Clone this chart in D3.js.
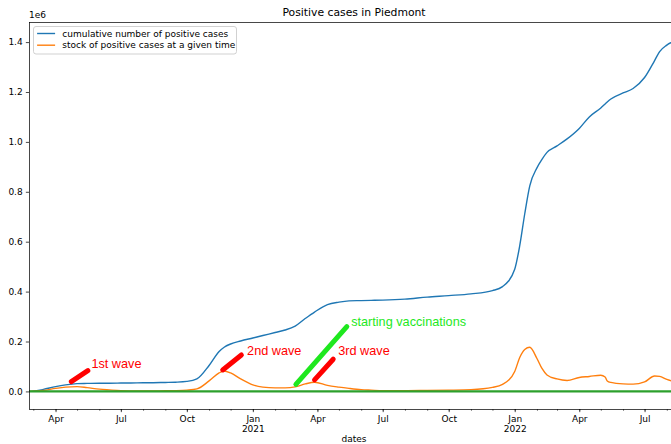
<!DOCTYPE html>
<html>
<head>
<meta charset="utf-8">
<script src="https://cdn.jsdelivr.net/npm/d3@7"></script>
<style>
  html, body { margin: 0; padding: 0; background: #fff; }
  svg { display: block; font-family: "DejaVu Sans", sans-serif; }
</style>
</head>
<body>
<svg id="chart" width="671" height="444"></svg>
<script>
// Piedmont COVID-19 positive cases, sampled dates
const dates = [
  "2020-02-24","2020-03-01","2020-03-15","2020-04-01","2020-04-15","2020-05-01","2020-05-15",
  "2020-06-01","2020-06-15","2020-07-01","2020-07-15","2020-08-01","2020-08-15","2020-09-01",
  "2020-09-15","2020-10-01","2020-10-15","2020-11-01","2020-11-15","2020-11-22","2020-12-01",
  "2020-12-15","2021-01-01","2021-01-15","2021-02-01","2021-02-15","2021-03-01","2021-03-15",
  "2021-03-28","2021-04-15","2021-05-01","2021-05-15","2021-06-01","2021-06-15","2021-07-01",
  "2021-08-01","2021-09-01","2021-10-01","2021-11-01","2021-12-01","2021-12-15","2022-01-01",
  "2022-01-08","2022-01-15","2022-01-22","2022-02-01","2022-02-08","2022-02-15","2022-03-01",
  "2022-03-15","2022-04-01","2022-04-15","2022-05-01","2022-05-07","2022-05-10","2022-05-15",
  "2022-06-01","2022-06-15","2022-07-01","2022-07-15","2022-07-22","2022-08-01","2022-08-18"
];

// cumulative number of positive cases
const cumulativeCases = [
  0, 1000, 8000, 19000, 26000, 31000, 32000,
  33000, 33000, 33500, 34000, 34500, 35000, 36000,
  37000, 40000, 50000, 104000, 160000, 177000, 190000,
  202000, 214000, 224000, 236000, 246000, 262000, 292000,
  318000, 348000, 358000, 363000, 364000, 365000, 366000,
  370000, 378000, 384000, 391000, 404000, 420000, 490000,
  584000, 712000, 824000, 896000, 930000, 958000, 984000,
  1012000, 1054000, 1100000, 1136000, 1152000, 1160000, 1172000,
  1196000, 1214000, 1258000, 1326000, 1362000, 1388000, 1410000
];

// stock of positive cases at a given time
const activeCases = [
  0, 500, 4000, 12000, 17000, 19000, 15000,
  9000, 6000, 3000, 2000, 1500, 2000, 2500,
  3000, 5000, 10000, 42000, 74000, 82000, 74000,
  50000, 26000, 17000, 14000, 14000, 18000, 30000,
  37000, 24000, 17000, 12000, 7000, 5000, 3000,
  3000, 4000, 5000, 7000, 16000, 28000, 80000,
  136000, 168000, 177000, 132000, 92000, 66000, 50000,
  44000, 56000, 60000, 65000, 58000, 42000, 36000,
  30000, 29000, 38000, 62000, 60000, 48000, 36000
];

const seriesLabels = ["cumulative number of positive cases", "stock of positive cases at a given time"];
const seriesColors = ["#1f77b4", "#ff7f0e"];
const yTickValues = [0, 200000, 400000, 600000, 800000, 1000000, 1200000, 1400000];

// hand-drawn style callouts: [date, value] anchors
const notes = [
  { text: "1st wave", color: "#ff0000", from: ["2020-04-23", 39000], to: ["2020-05-16", 83000], at: ["2020-05-21", 95000] },
  { text: "2nd wave", color: "#ff0000", from: ["2020-11-20", 86000], to: ["2020-12-16", 146000], at: ["2020-12-24", 145000] },
  { text: "starting vaccinations", color: "#1ee81e", from: ["2021-03-02", 28000], to: ["2021-05-12", 260000], at: ["2021-05-18", 262000] },
  { text: "3rd wave", color: "#ff0000", from: ["2021-03-28", 46000], to: ["2021-04-23", 129000], at: ["2021-04-30", 146000] }
];

const plot = { left: 29, top: 22, right: 679, bottom: 409 };
const parse = d3.utcParse("%Y-%m-%d");
const t = dates.map(parse);

const x = d3.scaleUtc().domain(d3.extent(t)).range([plot.left, plot.right]);
const maxV = d3.max(cumulativeCases);
const pad = 0.05 * maxV;
const y = d3.scaleLinear().domain([-pad, maxV + pad]).range([plot.bottom, plot.top]);

const svg = d3.select("#chart");

svg.append("defs").append("clipPath").attr("id", "plotclip")
  .append("rect")
  .attr("x", plot.left).attr("y", plot.top)
  .attr("width", plot.right - plot.left).attr("height", plot.bottom - plot.top);

const tickLen = 3.15, fs = 9;
const axisFont = "DejaVu Sans, sans-serif";

// y axis
const yAxis = svg.append("g")
  .attr("transform", `translate(${plot.left},0)`)
  .call(d3.axisLeft(y).tickValues(yTickValues).tickSize(tickLen).tickPadding(3.15)
    .tickFormat(v => (v / 1e6).toFixed(1)));
yAxis.select(".domain").remove();
yAxis.selectAll("line").attr("stroke", "#000").attr("stroke-width", 0.72);
yAxis.selectAll("text").attr("font-size", fs).attr("font-family", axisFont).attr("fill", "#000");

// x axis: monthly minor ticks, quarterly labelled ticks
const xMinor = svg.append("g")
  .attr("transform", `translate(0,${plot.bottom})`)
  .call(d3.axisBottom(x).ticks(d3.utcMonth.every(1)).tickSize(1.8).tickFormat(""));
xMinor.select(".domain").remove();
xMinor.selectAll("line").attr("stroke", "#000").attr("stroke-width", 0.54);

const fmtMonth = d3.utcFormat("%b");
const xMajor = svg.append("g")
  .attr("transform", `translate(0,${plot.bottom})`)
  .call(d3.axisBottom(x).ticks(d3.utcMonth.every(3)).tickSize(tickLen).tickPadding(3.15)
    .tickFormat(fmtMonth));
xMajor.select(".domain").remove();
xMajor.selectAll("line").attr("stroke", "#000").attr("stroke-width", 0.72);
xMajor.selectAll("text")
  .attr("font-size", fs).attr("font-family", axisFont).attr("fill", "#000")
  .each(function (d) {
    if (d.getUTCMonth() === 0) {
      d3.select(this).append("tspan")
        .attr("x", 0).attr("dy", "1.15em")
        .text(d.getUTCFullYear());
    }
  });

// series
const lineGen = vals => d3.line()
  .x((d, i) => x(t[i]))
  .y(d => y(d))
  .curve(d3.curveMonotoneX)(vals);

const lines = svg.append("g").attr("clip-path", "url(#plotclip)");
[cumulativeCases, activeCases].forEach((vals, k) => {
  lines.append("path")
    .attr("d", lineGen(vals))
    .attr("fill", "none")
    .attr("stroke", seriesColors[k])
    .attr("stroke-width", 1.4)
    .attr("stroke-linejoin", "round");
});

// zero reference line
lines.append("path")
  .attr("d", d3.line().x(d => x(d)).y(() => y(0))([t[0], t[t.length - 1]]))
  .attr("stroke", "#2ca02c")
  .attr("stroke-width", 2.2)
  .attr("fill", "none");

// callouts
const ann = svg.append("g");
notes.forEach(n => {
  ann.append("line")
    .attr("x1", x(parse(n.from[0]))).attr("y1", y(n.from[1]))
    .attr("x2", x(parse(n.to[0]))).attr("y2", y(n.to[1]))
    .attr("stroke", n.color).attr("stroke-width", 5)
    .attr("stroke-linecap", "round");
  ann.append("text")
    .attr("x", x(parse(n.at[0]))).attr("y", y(n.at[1]))
    .style("font-family", "'Liberation Sans', Arial, sans-serif")
    .style("font-size", "12.7px")
    .style("fill", n.color)
    .text(n.text);
});

// spines
const spines = svg.append("g").attr("stroke", "#000").attr("stroke-width", 0.72)
  .attr("shape-rendering", "crispEdges");
spines.append("line").attr("x1", plot.left).attr("x2", plot.left).attr("y1", plot.top).attr("y2", plot.bottom);
spines.append("line").attr("x1", plot.right).attr("x2", plot.right).attr("y1", plot.top).attr("y2", plot.bottom);
spines.append("line").attr("x1", plot.left).attr("x2", plot.right).attr("y1", plot.top).attr("y2", plot.top);
spines.append("line").attr("x1", plot.left).attr("x2", plot.right).attr("y1", plot.bottom).attr("y2", plot.bottom);

// offset label for y values
svg.append("text")
  .attr("x", plot.left).attr("y", plot.top - 4.5)
  .attr("font-size", fs)
  .text("1e6");

// title
svg.append("text")
  .attr("x", (plot.left + plot.right) / 2).attr("y", 15.5)
  .attr("text-anchor", "middle")
  .attr("font-size", 10.8)
  .text("Positive cases in Piedmont");

// x axis label
svg.append("text")
  .attr("x", (plot.left + plot.right) / 2).attr("y", 442)
  .attr("text-anchor", "middle")
  .attr("font-size", fs)
  .text("dates");

// legend
const lg = svg.append("g").attr("transform", "translate(33.5,26.5)");
lg.append("rect")
  .attr("width", 203).attr("height", 27.5).attr("rx", 2.5)
  .attr("fill", "#fff").attr("fill-opacity", 0.8)
  .attr("stroke", "#cccccc").attr("stroke-width", 0.9);
seriesLabels.forEach((lab, k) => {
  const cy = 7 + k * 11.7;
  lg.append("line")
    .attr("x1", 3.6).attr("x2", 21.6).attr("y1", cy).attr("y2", cy)
    .attr("stroke", seriesColors[k]).attr("stroke-width", 1.4);
  lg.append("text")
    .attr("x", 28.8).attr("y", cy).attr("dy", "0.35em")
    .attr("font-size", fs)
    .text(lab);
});
</script>
</body>
</html>
